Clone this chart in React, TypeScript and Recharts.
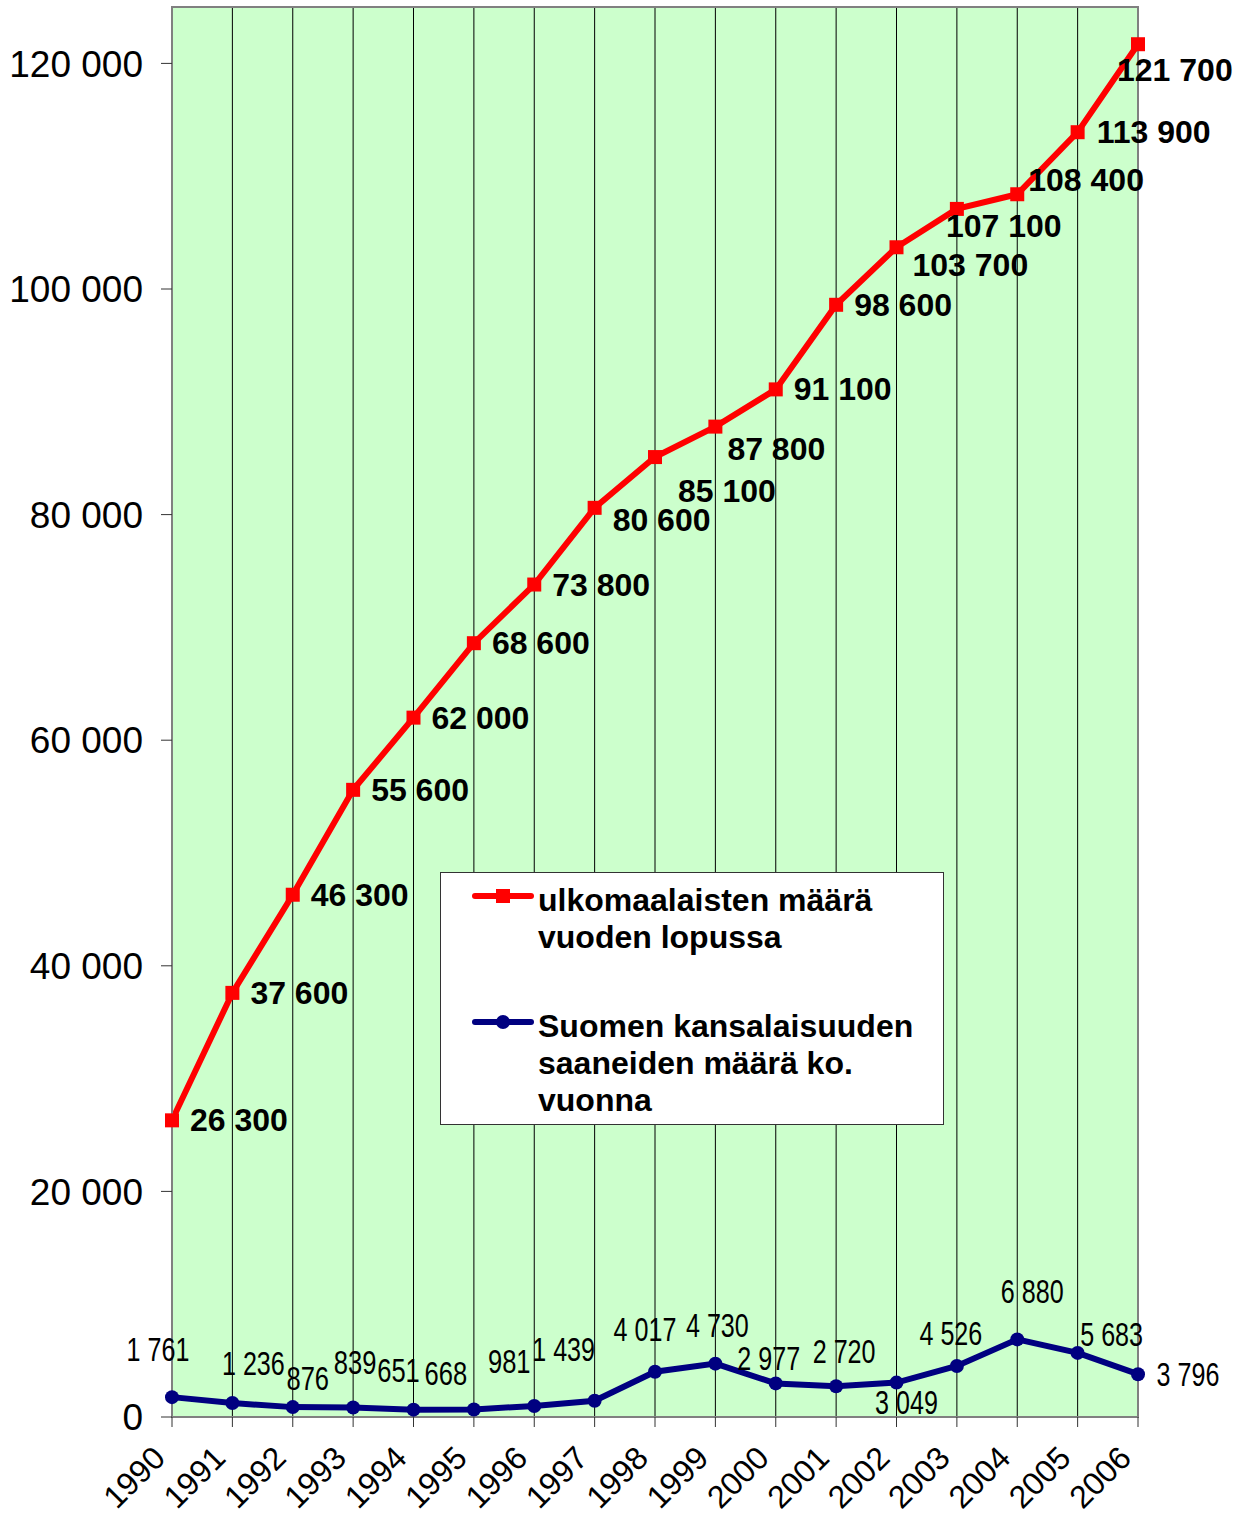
import React from 'react';
import { LineChart, Line, XAxis, YAxis, CartesianGrid, Legend, LabelList, ReferenceArea } from 'recharts';

const years = ['1990', '1991', '1992', '1993', '1994', '1995', '1996', '1997', '1998', '1999', '2000', '2001', '2002', '2003', '2004', '2005', '2006'];
const foreigners = [26300, 37600, 46300, 55600, 62000, 68600, 73800, 80600, 85100, 87800, 91100, 98600, 103700, 107100, 108400, 113900, 121700];
const naturalized = [1761, 1236, 876, 839, 651, 668, 981, 1439, 4017, 4730, 2977, 2720, 3049, 4526, 6880, 5683, 3796];
const yTicks = [0, 20000, 40000, 60000, 80000, 100000, 120000];
const seriesNames = ['ulkomaalaisten määrä vuoden lopussa', 'Suomen kansalaisuuden saaneiden määrä ko. vuonna'];

// label nudges [dx, dy] from each point, like the hand-placed labels in the original
const redNudge = [[18, 0], [18, 0], [18, 0], [18, 0], [18, 0], [18, 0], [18, 0], [18, 12], [23, 34], [12, 22], [18, 0], [18, 0], [16, 18], [-11, 17], [11, -14], [19, 0], [-21, 26]];
const blueNudge = [[-14, -48], [21, -40], [15, -29], [2, -45], [-15, -39], [-28, -36], [-25, -44], [-31, -51], [-10, -42], [2, -38], [-7, -25], [8, -35], [10, 20], [-6, -32], [15, -48], [34, -18], [50, 0]];

const data = years.map((year, i) => ({ year, foreigners: foreigners[i], naturalized: naturalized[i] }));

const RED = '#FF0000';
const NAVY = '#000080';
const FONT = '"Liberation Sans", Arial, sans-serif';

const fmt = (v: number) => String(v).replace(/\B(?=(\d{3})+(?!\d))/g, ' ');

// the blue labels use a narrow face; squeeze the text to that width
const narrowWidth = (s: string) => s.split('').reduce((w, c) => w + (c === ' ' ? 6 : 14.2), 0);

const SquareDot = (props: any) => {
  const { cx, cy, index } = props;
  return <rect key={`sq-${index}`} x={cx - 7} y={cy - 7} width={14} height={14} fill={RED} />;
};

const RoundDot = (props: any) => {
  const { cx, cy, index } = props;
  return <circle key={`rd-${index}`} cx={cx} cy={cy} r={7} fill={NAVY} />;
};

const RedLabel = (props: any) => {
  const { x, y, value, index } = props;
  const [dx, dy] = redNudge[index] || [18, 0];
  return (
    <text x={x + dx} y={y + dy} dominantBaseline="central" textAnchor="start"
      fontFamily={FONT} fontWeight="bold" fontSize={32} fill="#000">
      {fmt(value)}
    </text>
  );
};

const BlueLabel = (props: any) => {
  const { x, y, value, index } = props;
  const [dx, dy] = blueNudge[index] || [0, -30];
  const s = fmt(value);
  const w = narrowWidth(s);
  return (
    <text x={x + dx - w / 2} y={y + dy} dominantBaseline="central" textAnchor="start"
      textLength={w} lengthAdjust="spacingAndGlyphs"
      fontFamily={FONT} fontSize={33} fill="#000">
      {s}
    </text>
  );
};

const YearTick = (props: any) => {
  const { x, y, payload } = props;
  const ax = x - 5;
  const ay = y + 31;
  return (
    <text x={ax} y={ay} textAnchor="end" transform={`rotate(-45, ${ax}, ${ay})`}
      fontFamily={FONT} fontSize={32} fill="#000">
      {payload.value}
    </text>
  );
};

const LegendBox = () => (
  <div style={{
    boxSizing: 'border-box', width: 504, height: 253, background: '#fff',
    border: '1.5px solid #333', paddingTop: 9, fontFamily: FONT, fontWeight: 'bold',
    fontSize: 32, lineHeight: '37px', color: '#000', textAlign: 'left',
  }}>
    {seriesNames.map((name, i) => (
      <div key={name} style={{ display: 'flex', marginBottom: i === 0 ? 52 : 0 }}>
        <svg width={97} height={37} style={{ flex: 'none' }}>
          <line x1={34} y1={14} x2={90} y2={14} stroke={i === 0 ? RED : NAVY} strokeWidth={6} strokeLinecap="round" />
          {i === 0
            ? <rect x={55} y={7} width={14} height={14} fill={RED} />
            : <circle cx={62} cy={14} r={7} fill={NAVY} />}
        </svg>
        <div style={{ width: 400 }}>{name}</div>
      </div>
    ))}
  </div>
);

export default function App() {
  return (
    <div style={{ position: 'absolute', left: 0, top: 0, background: '#fff' }}>
      <LineChart width={1246} height={1522} data={data} margin={{ top: 7, right: 108, left: 0, bottom: 0 }}>
        <CartesianGrid horizontal={false} vertical stroke="#000" strokeWidth={1} fill="#CCFFCC" fillOpacity={1} />
        <XAxis dataKey="year" interval={0} height={105} tick={<YearTick />}
          axisLine={{ stroke: '#808080', strokeWidth: 2 }} tickLine={{ stroke: '#333' }} tickSize={10} />
        <YAxis width={172} domain={[0, 125000]} ticks={yTicks} tickFormatter={fmt} allowDataOverflow
          tick={{ fontFamily: FONT, fontSize: 37, fill: '#000' }}
          axisLine={{ stroke: '#808080', strokeWidth: 2 }} tickLine={{ stroke: '#333' }} tickSize={11} tickMargin={18} />
        <ReferenceArea x1="1990" x2="2006" y1={0} y2={125000} fill="none" fillOpacity={0} stroke="#808080" strokeWidth={2} />
        <Line dataKey="naturalized" name={seriesNames[1]} stroke={NAVY} strokeWidth={6}
          dot={<RoundDot />} activeDot={false} isAnimationActive={false}>
          <LabelList dataKey="naturalized" content={<BlueLabel />} />
        </Line>
        <Line dataKey="foreigners" name={seriesNames[0]} stroke={RED} strokeWidth={6}
          dot={<SquareDot />} activeDot={false} isAnimationActive={false}>
          <LabelList dataKey="foreigners" content={<RedLabel />} />
        </Line>
        <Legend layout="vertical" align="center" verticalAlign="middle" content={<LegendBox />}
          wrapperStyle={{ left: 440, top: 872, width: 504, height: 253 }} />
      </LineChart>
    </div>
  );
}
